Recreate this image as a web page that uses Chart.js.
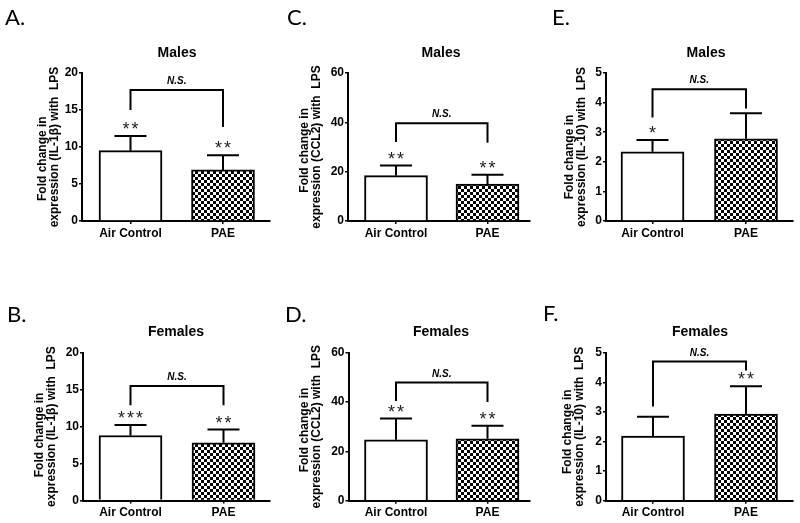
<!DOCTYPE html>
<html><head><meta charset="utf-8">
<script src="https://cdn.jsdelivr.net/npm/chart.js@4.4.1/dist/chart.umd.min.js"></script>
<style>
html,body{margin:0;padding:0;background:#fff;}
body{width:800px;height:523px;position:relative;overflow:hidden;}
canvas{position:absolute;}
</style></head><body>
<canvas id="cA"></canvas><canvas id="cC"></canvas><canvas id="cE"></canvas>
<canvas id="cB"></canvas><canvas id="cD"></canvas><canvas id="cF"></canvas>
<script>
// ---------- data ----------
const categories = ['Air Control', 'PAE'];
const yTicksIL1b = [0, 5, 10, 15, 20];
const yTicksCCL2 = [0, 20, 40, 60];
const yTicksIL10 = [0, 1, 2, 3, 4, 5];

// mean fold change, SEM, significance stars, bracket [level, left end, right end]
const il1bMales = [9.5, 6.9];
const il1bMalesSem = [2.0, 2.0];
const il1bMalesStars = ['**', '**'];
const il1bMalesBracket = [17.7, 15.0, 12.7];

const il1bFemales = [8.8, 7.8];
const il1bFemalesSem = [1.4, 1.8];
const il1bFemalesStars = ['***', '**'];
const il1bFemalesBracket = [15.5, 12.9, 12.9];

const ccl2Males = [18.4, 15.0];
const ccl2MalesSem = [4.1, 3.7];
const ccl2MalesStars = ['**', '**'];
const ccl2MalesBracket = [39.6, 32.0, 31.7];

const ccl2Females = [24.7, 25.1];
const ccl2FemalesSem = [8.6, 5.3];
const ccl2FemalesStars = ['**', '**'];
const ccl2FemalesBracket = [47.9, 40.4, 40.0];

const il10Males = [2.34, 2.78];
const il10MalesSem = [0.40, 0.86];
const il10MalesStars = ['*', ''];
const il10MalesBracket = [4.45, 3.5, 3.8];

const il10Females = [2.18, 2.93];
const il10FemalesSem = [0.66, 0.94];
const il10FemalesStars = ['', '**'];
const il10FemalesBracket = [4.7, 3.18, 4.4];

const FONT = "'Liberation Sans', Arial, sans-serif";
Chart.defaults.font.family = FONT;

// ---------- layout (page pixels) ----------
const panels = [
  {id:'cA', letter:'A.', title:'Males', gene:'(IL-1\u03b2)', values:il1bMales, errs:il1bMalesSem, stars:il1bMalesStars, bracket:il1bMalesBracket, ticks:yTicksIL1b,
   box:[0,0,272,261], axisLeft:82, c1:130.5, c2:223, axisRight:270, yTop:73, yBottom:221, yTitleX:43, sp:7, titleX:177, titleY:57, letterX:5, letterY:25},
  {id:'cC', letter:'C.', title:'Males', gene:'(CCL2)', values:ccl2Males, errs:ccl2MalesSem, stars:ccl2MalesStars, bracket:ccl2MalesBracket, ticks:yTicksCCL2,
   box:[272,0,263,261], axisLeft:348, c1:396, c2:487.5, axisRight:530, yTop:73, yBottom:221, yTitleX:305, sp:2, titleX:441, titleY:57, letterX:287, letterY:25},
  {id:'cE', letter:'E.', title:'Males', gene:'(IL-10)', values:il10Males, errs:il10MalesSem, stars:il10MalesStars, bracket:il10MalesBracket, ticks:yTicksIL10,
   box:[535,0,265,261], axisLeft:606, c1:652.5, c2:746, axisRight:793, yTop:73, yBottom:221, yTitleX:570, sp:6, titleX:706, titleY:57, letterX:552, letterY:25},
  {id:'cB', letter:'B.', title:'Females', gene:'(IL-1\u03b2)', values:il1bFemales, errs:il1bFemalesSem, stars:il1bFemalesStars, bracket:il1bFemalesBracket, ticks:yTicksIL1b,
   box:[0,261,272,262], axisLeft:83, c1:130.5, c2:223.5, axisRight:270, yTop:352.7, yBottom:500.5, yTitleX:40, sp:5, titleX:176, titleY:336, letterX:7, letterY:322},
  {id:'cD', letter:'D.', title:'Females', gene:'(CCL2)', values:ccl2Females, errs:ccl2FemalesSem, stars:ccl2FemalesStars, bracket:ccl2FemalesBracket, ticks:yTicksCCL2,
   box:[272,261,263,262], axisLeft:348.5, c1:396, c2:487.5, axisRight:530, yTop:352.7, yBottom:500.7, yTitleX:305, sp:2, titleX:441, titleY:336, letterX:285, letterY:322},
  {id:'cF', letter:'F.', title:'Females', gene:'(IL-10)', values:il10Females, errs:il10FemalesSem, stars:il10FemalesStars, bracket:il10FemalesBracket, ticks:yTicksIL10,
   box:[535,261,265,262], axisLeft:606, c1:653, c2:746, axisRight:793, yTop:352.7, yBottom:500.7, yTitleX:568, sp:3, titleX:700, titleY:336, letterX:543, letterY:321}
];

function makeChecker(ctx){
  const c = document.createElement('canvas');
  c.width = 6; c.height = 6;
  const g = c.getContext('2d');
  g.fillStyle = '#fff'; g.fillRect(0,0,6,6);
  g.fillStyle = '#000'; g.fillRect(0,0,3,3); g.fillRect(3,3,3,3);
  return ctx.createPattern(c, 'repeat');
}

function deco(p){
  const cx = p.box[0], cy = p.box[1];
  return {
    id: 'deco' + p.id,
    afterDatasetsDraw(chart){
      const ctx = chart.ctx, x = chart.scales.x, y = chart.scales.y;
      const meta = chart.getDatasetMeta(0);
      ctx.save();
      ctx.strokeStyle = '#000'; ctx.lineWidth = 2; ctx.lineCap = 'butt';
      meta.data.forEach((bar, i) => {
        const top = y.getPixelForValue(p.values[i] + p.errs[i]);
        ctx.beginPath();
        ctx.moveTo(bar.x, bar.y); ctx.lineTo(bar.x, top);
        ctx.moveTo(bar.x - 16, top); ctx.lineTo(bar.x + 16, top);
        ctx.stroke();
        if (p.stars[i]) {
          ctx.fillStyle = '#222';
          ctx.font = '18px ' + FONT;
          ctx.textAlign = 'center'; ctx.textBaseline = 'alphabetic';
          ctx.letterSpacing = '2px';
          ctx.fillText(p.stars[i], bar.x + 1, top - 1);
          ctx.letterSpacing = '0px';
        }
      });
      const x0 = x.getPixelForValue(0), x1 = x.getPixelForValue(1);
      const yb = y.getPixelForValue(p.bracket[0]);
      ctx.beginPath();
      ctx.lineJoin = 'miter';
      ctx.moveTo(x0, y.getPixelForValue(p.bracket[1]));
      ctx.lineTo(x0, yb); ctx.lineTo(x1, yb);
      ctx.lineTo(x1, y.getPixelForValue(p.bracket[2]));
      ctx.stroke();
      ctx.fillStyle = '#000';
      ctx.font = 'italic bold 10px ' + FONT;
      ctx.textAlign = 'center'; ctx.textBaseline = 'alphabetic';
      ctx.fillText('N.S.', (x0 + x1) / 2, yb - 6);
      ctx.font = 'bold 14px ' + FONT;
      ctx.fillText(p.title, p.titleX - cx, p.titleY - cy);
      ctx.font = "22px Lato, 'Open Sans', sans-serif";
      ctx.textAlign = 'left';
      ctx.fillText(p.letter, p.letterX - cx, p.letterY - cy);
      ctx.restore();
    }
  };
}

function buildPanel(p){
  const cv = document.getElementById(p.id);
  const [cx, cy, cw, ch] = p.box;
  cv.width = cw; cv.height = ch;
  cv.style.left = cx + 'px'; cv.style.top = cy + 'px';
  const ctx = cv.getContext('2d');
  const unit = p.c2 - p.c1;
  const xmin = -(p.c1 - p.axisLeft) / unit;
  const xmax = 1 + (p.axisRight - p.c2) / unit;
  const padL = 4;
  const yW = p.axisLeft - cx - padL;
  const padTop = p.yTop - cy;
  const padBottom = 2;
  const xH = ch - (p.yBottom - cy) - padBottom;
  const titlePad = (p.yTitleX - cx) - padL - 6;
  const pattern = makeChecker(ctx);
  new Chart(cv, {
    type: 'bar',
    data: {
      datasets: [{
        data: p.values.map((v, i) => ({x: i, y: v})),
        backgroundColor: ['#ffffff', pattern],
        borderColor: '#000',
        borderWidth: 2,
        barThickness: 63
      }]
    },
    options: {
      responsive: false,
      animation: false,
      layout: {padding: {left: padL, right: cw - (p.axisRight - cx), top: padTop, bottom: padBottom}},
      plugins: {legend: {display: false}, tooltip: {enabled: false}, title: {display: false}},
      scales: {
        x: {
          type: 'linear', min: xmin, max: xmax, offset: false,
          afterBuildTicks: s => { s.ticks = categories.map((c, i) => ({value: i})); },
          afterFit: s => { s.height = xH; },
          ticks: {callback: v => categories[v] ?? '', autoSkip: false, maxRotation: 0, minRotation: 0,
                  color: '#000', font: {size: 12, weight: 'bold'}, padding: 2},
          grid: {drawOnChartArea: false, drawTicks: true, tickLength: 3, color: '#000', lineWidth: 1.5, offset: false},
          border: {color: '#000', width: 2}
        },
        y: {
          min: p.ticks[0], max: p.ticks[p.ticks.length - 1],
          afterBuildTicks: s => { s.ticks = p.ticks.map(v => ({value: v})); },
          afterFit: s => { s.width = yW; },
          ticks: {color: '#000', font: {size: 12, weight: 'bold'}, padding: 1},
          grid: {drawOnChartArea: false, drawTicks: true, tickLength: 3, color: '#000', lineWidth: 1.5},
          border: {color: '#000', width: 2},
          title: {display: true,
                  text: ['Fold change in' + ' '.repeat(p.sp), 'expression ' + p.gene + ' with  LPS'],
                  color: '#000', font: {size: 12, weight: 'bold', lineHeight: 1},
                  padding: {top: titlePad, bottom: 0}}
        }
      }
    },
    plugins: [deco(p)]
  });
}
panels.forEach(buildPanel);
</script>
</body></html>
